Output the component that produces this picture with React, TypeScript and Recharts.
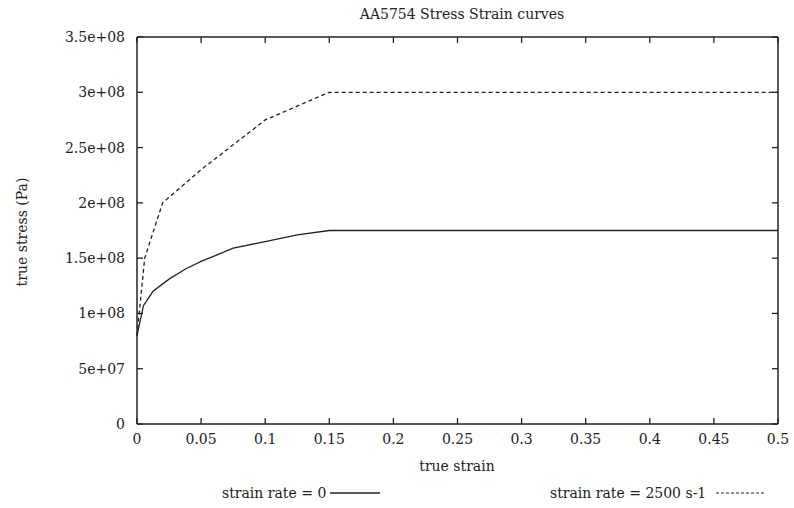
import { LineChart, Line, XAxis, YAxis } from 'recharts'

// strain (x) and true stress (Pa)
const quasiStrain = [0, 0.005, 0.0125, 0.025, 0.0375, 0.05, 0.0625, 0.075, 0.1, 0.125, 0.15, 0.5]
const quasiStress = [8.0e7, 1.07e8, 1.2e8, 1.31e8, 1.4e8, 1.47e8, 1.53e8, 1.59e8, 1.65e8, 1.71e8, 1.75e8, 1.75e8]

const dynStrain = [0, 0.006, 0.02, 0.05, 0.1, 0.15, 0.5]
const dynStress = [8.0e7, 1.5e8, 2.0e8, 2.3e8, 2.75e8, 3.0e8, 3.0e8]

const xTicks = [0, 0.05, 0.1, 0.15, 0.2, 0.25, 0.3, 0.35, 0.4, 0.45, 0.5]
const yTicks = [0, 5e7, 1e8, 1.5e8, 2e8, 2.5e8, 3e8, 3.5e8]

const quasiData = quasiStrain.map((x, i) => ({ x, y: quasiStress[i] }))
const dynData = dynStrain.map((x, i) => ({ x, y: dynStress[i] }))

const font = '"DejaVu Serif", serif'
const ink = '#222'
const TICK = 6
// plot frame (from chart margins / axis sizes below)
const PLOT_TOP = 37
const PLOT_RIGHT = 778

const fmtY = (v: number) => {
    if (v === 0) return '0'
    const exp = Math.floor(Math.log10(v))
    const mant = v / Math.pow(10, exp)
    return `${mant}e+${exp < 10 ? '0' + exp : exp}`
}

// inward ticks on all four sides, gnuplot style
const BottomTick = ({ x, y, payload }: any) => (
    <g>
        <line x1={x} y1={y} x2={x} y2={y - TICK} stroke={ink} strokeWidth={1.3} />
        <line x1={x} y1={PLOT_TOP} x2={x} y2={PLOT_TOP + TICK} stroke={ink} strokeWidth={1.3} />
        <text x={x} y={y + 20} textAnchor="middle" fill={ink} fontSize={14} fontFamily={font}>{payload.value}</text>
    </g>
)
const LeftTick = ({ x, y, payload }: any) => (
    <g>
        <line x1={x} y1={y} x2={x + TICK} y2={y} stroke={ink} strokeWidth={1.3} />
        <line x1={PLOT_RIGHT} y1={y} x2={PLOT_RIGHT - TICK} y2={y} stroke={ink} strokeWidth={1.3} />
        <text x={x - 12} y={y + 5} textAnchor="end" fill={ink} fontSize={14} fontFamily={font}>{fmtY(payload.value)}</text>
    </g>
)

export default function App() {
    const txt = { position: 'absolute' as const, whiteSpace: 'nowrap' as const, fontSize: 14 }
    return (
        <div style={{ position: 'absolute', left: 0, top: 0, width: 794, height: 508, background: '#fff', fontFamily: font, color: ink }}>
            <div style={{ ...txt, left: 462, top: 14, transform: 'translate(-50%, -50%)' }}>
                AA5754 Stress Strain curves
            </div>
            <div style={{ ...txt, left: 22, top: 232, transform: 'translate(-50%, -50%) rotate(-90deg)' }}>
                true stress (Pa)
            </div>
            <div style={{ ...txt, left: 457, top: 466, transform: 'translate(-50%, -50%)' }}>
                true strain
            </div>
            <div style={{ ...txt, left: 222, top: 485, display: 'flex', alignItems: 'center' }}>
                strain rate = 0
                <svg width={52} height={10} style={{ marginLeft: 4 }}>
                    <line x1={0} y1={5} x2={50} y2={5} stroke={ink} strokeWidth={1.3} />
                </svg>
            </div>
            <div style={{ ...txt, left: 550, top: 485, display: 'flex', alignItems: 'center' }}>
                strain rate = 2500 s-1
                <svg width={52} height={10} style={{ marginLeft: 10 }}>
                    <line x1={0} y1={5} x2={50} y2={5} stroke={ink} strokeWidth={1.2} strokeDasharray="3 2" />
                </svg>
            </div>
            <LineChart width={794} height={508} margin={{ top: 36, right: 15, left: 0, bottom: 0 }} style={{ position: 'absolute', left: 0, top: 0 }}>
                <XAxis
                    xAxisId="b"
                    dataKey="x"
                    type="number"
                    domain={[0, 0.5]}
                    ticks={xTicks}
                    height={84}
                    tickLine={false}
                    tickSize={0}
                    tickMargin={0}
                    tick={BottomTick}
                    stroke={ink}
                    strokeWidth={1.5}
                    interval={0}
                />
                <XAxis
                    xAxisId="t"
                    orientation="top"
                    dataKey="x"
                    type="number"
                    domain={[0, 0.5]}
                    height={1}
                    tickLine={false}
                    tick={false}
                    stroke={ink}
                    strokeWidth={1.5}
                />
                <YAxis
                    yAxisId="l"
                    type="number"
                    domain={[0, 3.5e8]}
                    ticks={yTicks}
                    width={137}
                    tickLine={false}
                    tickSize={0}
                    tickMargin={0}
                    tick={LeftTick}
                    stroke={ink}
                    strokeWidth={1.5}
                    interval={0}
                />
                <YAxis
                    yAxisId="r"
                    orientation="right"
                    type="number"
                    domain={[0, 3.5e8]}
                    width={1}
                    tickLine={false}
                    tick={false}
                    stroke={ink}
                    strokeWidth={1.5}
                />
                <Line
                    xAxisId="b"
                    yAxisId="l"
                    data={quasiData}
                    dataKey="y"
                    type="linear"
                    stroke={ink}
                    strokeWidth={1.3}
                    dot={false}
                    isAnimationActive={false}
                />
                <Line
                    xAxisId="b"
                    yAxisId="l"
                    data={dynData}
                    dataKey="y"
                    type="linear"
                    stroke={ink}
                    strokeWidth={1.3}
                    strokeDasharray="4 3"
                    dot={false}
                    isAnimationActive={false}
                />
            </LineChart>
        </div>
    )
}
